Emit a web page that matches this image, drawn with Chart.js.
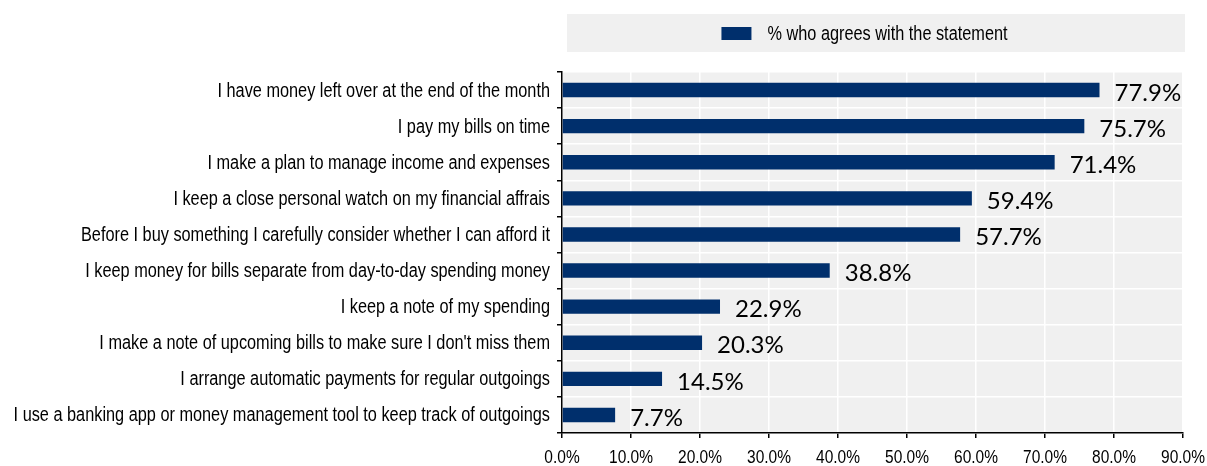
<!DOCTYPE html>
<html>
<head>
<meta charset="utf-8">
<script src="https://cdn.jsdelivr.net/npm/chart.js@4.4.1/dist/chart.umd.min.js"></script>
<style>
  html, body { margin: 0; padding: 0; background: #fff; }
  #wrap { width: 1207px; height: 466px; position: relative; }
</style>
</head>
<body>
<div id="wrap"><canvas id="chart"></canvas></div>
<script>
const categories = [
    "I have money left over at the end of the month",
    "I pay my bills on time",
    "I make a plan to manage income and expenses",
    "I keep a close personal watch on my financial affrais",
    "Before I buy something I carefully consider whether I can afford it",
    "I keep money for bills separate from day-to-day spending money",
    "I keep a note of my spending",
    "I make a note of upcoming bills to make sure I don't miss them",
    "I arrange automatic payments for regular outgoings",
    "I use a banking app or money management tool to keep track of outgoings"
];
const values = [77.9, 75.7, 71.4, 59.4, 57.7, 38.8, 22.9, 20.3, 14.5, 7.7];
const seriesName = "% who agrees with the statement";
const xTicks = [0, 10, 20, 30, 40, 50, 60, 70, 80, 90];

const sans = "'Liberation Sans', Arial, sans-serif";
const navy = "#002F6C";
const panel = "#F0F0F0";
const squeeze = 0.815; // no Arial Narrow installed, so condense by hand

function narrowText(ctx, text, x, y, size, align) {
    ctx.save();
    ctx.translate(x, y);
    ctx.scale(squeeze, 1);
    ctx.font = size + "px " + sans;
    ctx.textAlign = align;
    ctx.textBaseline = "middle";
    ctx.fillStyle = "#000";
    ctx.fillText(text, 0, 0);
    ctx.restore();
}

// grey plot area and the legend strip above it
const backdrop = {
    id: "backdrop",
    beforeDraw(chart) {
        const ctx = chart.ctx;
        const a = chart.chartArea;
        ctx.save();
        ctx.fillStyle = panel;
        ctx.fillRect(a.left, a.top, a.right - a.left, a.bottom - a.top);
        ctx.fillRect(a.left + 5, 14, a.right - a.left - 3, 38);

        // legend: swatch + label
        ctx.font = "20px " + sans;
        const tw = ctx.measureText(seriesName).width * squeeze;
        const total = 30 + 16 + tw;
        const x0 = (a.left + a.right) / 2 - 8 - total / 2;
        ctx.fillStyle = navy;
        ctx.fillRect(x0, 27, 30, 13);
        ctx.restore();
        narrowText(ctx, seriesName, x0 + 46, 34, 20, "left");
    }
};

// category names, x tick labels and the value next to each bar
const labels = {
    id: "labels",
    afterDraw(chart) {
        const ctx = chart.ctx;
        const xs = chart.scales.x;
        const ys = chart.scales.y;
        categories.forEach((c, i) => {
            narrowText(ctx, c, ys.right - 12, ys.getPixelForTick(i) + 1, 20, "right");
        });
        xTicks.forEach(v => {
            narrowText(ctx, v.toFixed(1) + "%", xs.getPixelForValue(v), 458, 19, "center");
        });
        const meta = chart.getDatasetMeta(0);
        ctx.save();
        ctx.font = "24px Lato, 'Open Sans', sans-serif";
        ctx.fillStyle = "#000";
        ctx.textBaseline = "middle";
        ctx.textAlign = "left";
        meta.data.forEach((bar, i) => {
            ctx.fillText(values[i].toFixed(1) + "%", bar.x + 15, bar.y + 3);
        });
        ctx.restore();
    }
};

new Chart(document.getElementById("chart"), {
    type: "bar",
    data: {
        labels: categories,
        datasets: [{
            label: seriesName,
            data: values,
            backgroundColor: navy,
            borderWidth: 0,
            barPercentage: 0.4,
            categoryPercentage: 1
        }]
    },
    options: {
        indexAxis: "y",
        responsive: true,
        maintainAspectRatio: false,
        animation: false,
        layout: { padding: { top: 72, right: 24, left: 0, bottom: 0 } },
        plugins: {
            legend: { display: false },
            tooltip: { enabled: false }
        },
        scales: {
            x: {
                min: 0,
                max: 90,
                afterFit(scale) { scale.height = 33; },
                afterBuildTicks(scale) {
                    scale.ticks = xTicks.map(v => ({ value: v }));
                },
                ticks: { display: false },
                grid: {
                    color: "#fff",
                    lineWidth: 1.5,
                    tickColor: "#000",
                    tickLength: 5,
                    tickWidth: 1.5
                },
                border: { display: true, color: "#000", width: 1.5 }
            },
            y: {
                afterFit(scale) { scale.width = 562; },
                ticks: { display: false, autoSkip: false },
                grid: {
                    offset: true,
                    color: "#fff",
                    lineWidth: 1.5,
                    tickColor: "#000",
                    tickLength: 5,
                    tickWidth: 1.5
                },
                border: { display: true, color: "#000", width: 1.5 }
            }
        }
    },
    plugins: [backdrop, labels]
});
</script>
</body>
</html>
